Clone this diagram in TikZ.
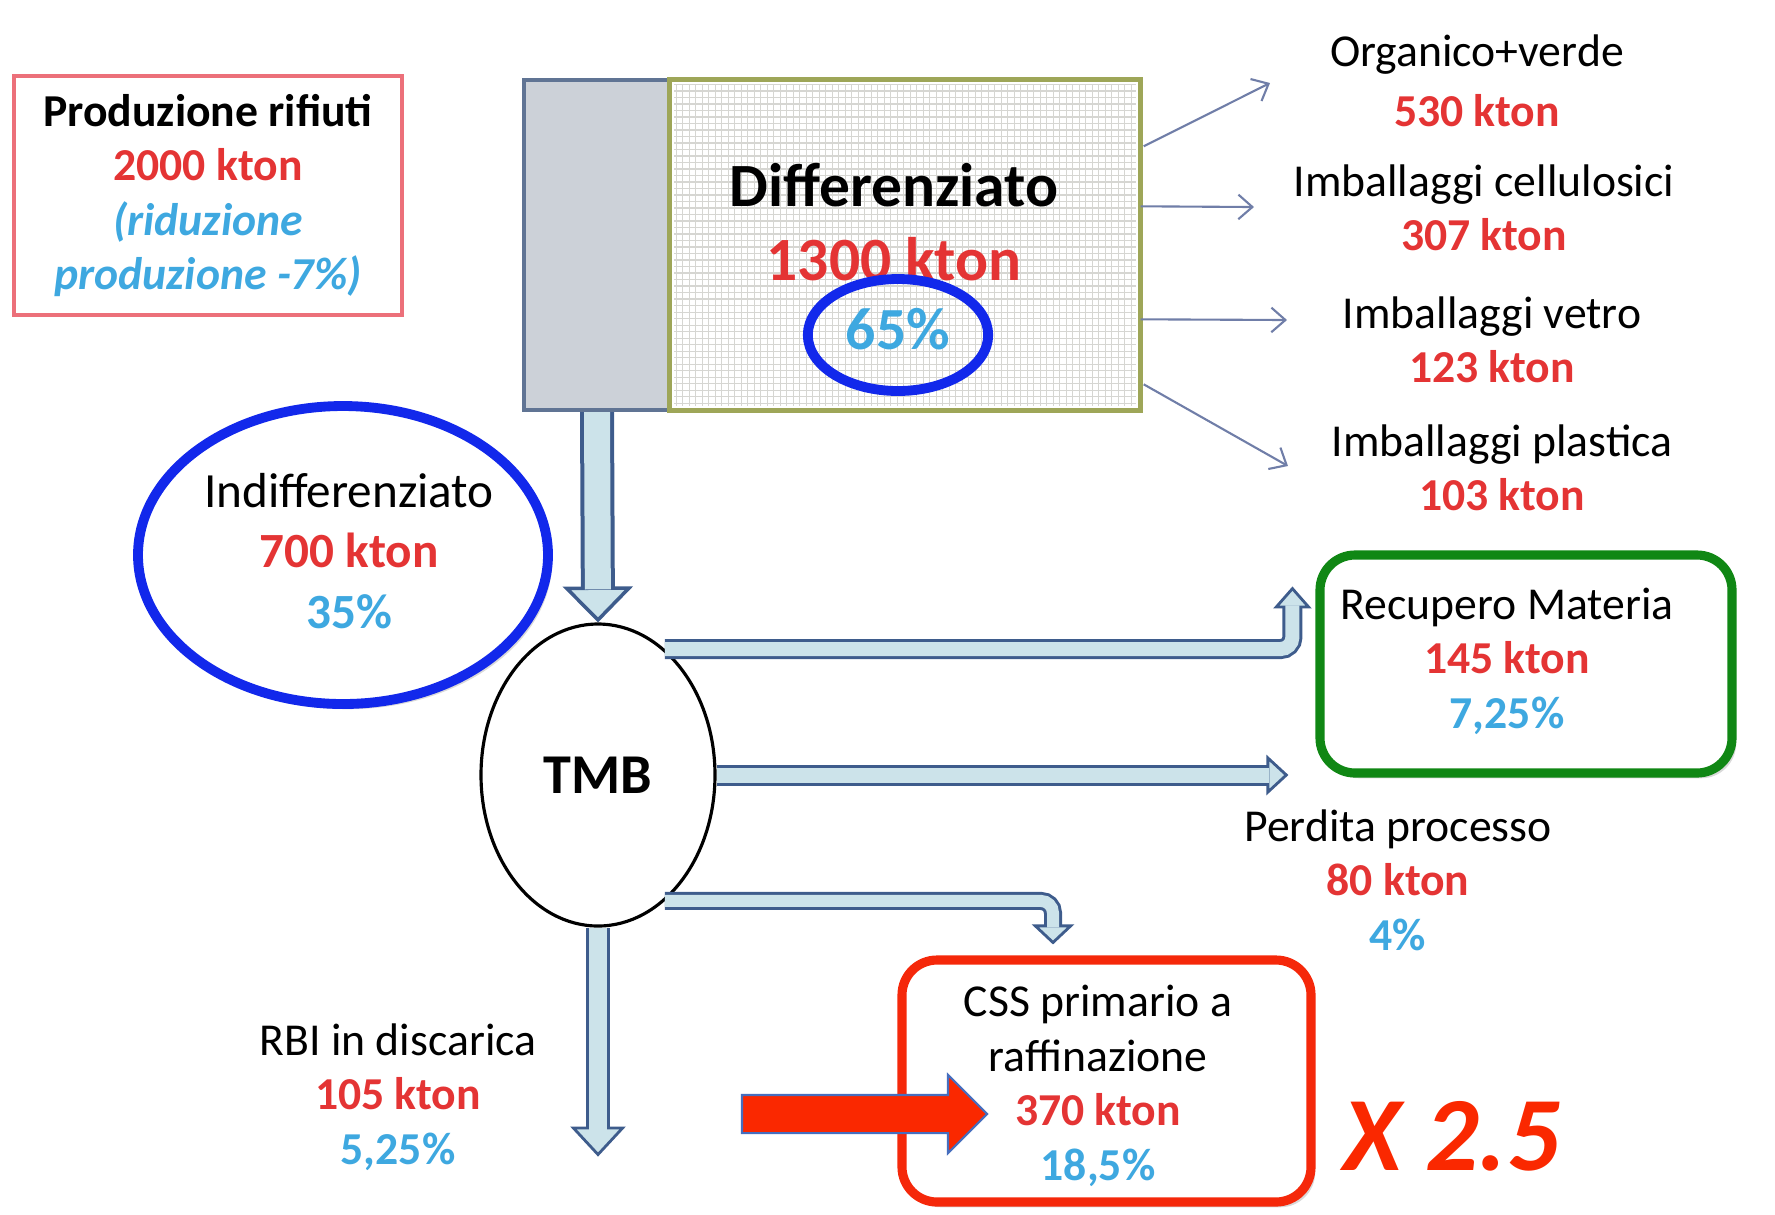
\documentclass[tikz,border=0pt]{standalone}
\usepackage{fontspec}
\setmainfont{Carlito}
\usetikzlibrary{arrows.meta,shapes.geometric,shapes.arrows,shadows,calc}
\definecolor{kred}{RGB}{228,52,52}
\definecolor{kblue}{RGB}{62,168,224}
\definecolor{ringblue}{RGB}{18,40,235}
\definecolor{boxgreen}{RGB}{16,135,20}
\definecolor{boxred}{RGB}{245,40,10}
\definecolor{prodpink}{RGB}{236,112,122}
\definecolor{barfill}{RGB}{204,209,216}
\definecolor{baredge}{RGB}{96,116,148}
\definecolor{diffolive}{RGB}{158,166,88}
\definecolor{gridgrey}{RGB}{214,214,210}
\definecolor{fatfill}{RGB}{204,227,234}
\definecolor{fatedge}{RGB}{62,92,140}
\definecolor{thinblue}{RGB}{112,126,168}
\definecolor{bigred}{RGB}{250,40,0}
\newcommand{\kt}[1]{{\color{kred}\bfseries #1}}
\newcommand{\pc}[1]{{\color{kblue}\bfseries #1}}

\begin{document}
\begin{tikzpicture}[x=1cm,y=-1cm,
    lbl/.style={align=center,font=\fontsize{13}{15.5}\selectfont},
    shaft/.style={draw=fatedge,line width=#1,rounded corners=0.12cm},
    core/.style={draw=fatfill,line width=#1,rounded corners=0.12cm},
    thinarr/.style={draw=thinblue,line width=0.6pt,-{Straight Barb[length=4pt,width=7pt]}},
    boxshadow/.style={drop shadow={opacity=0.3,shadow xshift=1.2pt,shadow yshift=-1.5pt}}]
        \useasboundingbox(0,0)rectangle(17.75,12.14);
        \node[draw=prodpink,line width=1pt,minimum width=3.88cm,minimum height=2.39cm,lbl](prod)at(2.08,1.955){\textbf{Produzione rifiuti}\\\kt{2000 kton}\\{\color{kblue}\bfseries\itshape(riduzione}\\{\color{kblue}\bfseries\itshape produzione -7\%)}};
        \node[draw=baredge,fill=barfill,line width=1.2pt,minimum width=1.46cm,minimum height=3.30cm](bar)at(5.97,2.45){};
        \node[fill=white,minimum width=4.70cm,minimum height=3.30cm](diffbox)at(9.05,2.45){};
        \draw[gridgrey,line width=0.3pt,step=0.065cm]($(diffbox.south west)+(0.05,-0.05)$)grid($(diffbox.north east)+(-0.05,0.05)$);
        \draw[diffolive,line width=1.5pt](diffbox.south west)rectangle(diffbox.north east);
        \node[align=center,font=\fontsize{17.5}{21}\selectfont\bfseries](difftxt)at(8.94,2.22){Differenziato\\{\color{kred}1300 kton}};
        \node[ellipse,draw=ringblue,line width=2.8pt,minimum width=1.72cm,minimum height=1.12cm,text=kblue,font=\fontsize{17}{20}\selectfont\bfseries,text depth=0.12cm](p65)at(8.98,3.35){65\%};
        \node[lbl](org)at(14.77,0.81){Organico+verde\\[1.5pt]\kt{530 kton}};
        \node[lbl](cel)at(14.84,2.08){Imballaggi cellulosici\\\kt{307 kton}};
        \node[lbl](vet)at(14.92,3.40){Imballaggi vetro\\\kt{123 kton}};
        \node[lbl](pla)at(15.02,4.68){Imballaggi plastica\\\kt{103 kton}};
        \coordinate(to1)at(12.70,0.83);
        \coordinate(to2)at(12.54,2.07);
        \coordinate(to3)at(12.87,3.20);
        \coordinate(to4)at(12.88,4.66);
        \draw[thinarr]($(diffbox.north east)+(0.03,0.67)$)--(to1);
        \draw[thinarr]($(diffbox.north east)+(0,1.27)$)--(to2);
        \draw[thinarr]($(diffbox.north east)+(0,2.40)$)--(to3);
        \draw[thinarr]($(diffbox.north east)+(0.03,3.05)$)--(to4);
        \node[ellipse,draw=ringblue,line width=2.8pt,fill=white,boxshadow,minimum width=4.10cm,minimum height=2.98cm](indiff)at(3.43,5.55){};
        \node[align=center,font=\fontsize{14}{17.3}\selectfont](indifftxt)at(3.49,5.51){Indifferenziato\\\kt{700 kton}\\\pc{35\%}};
        \node[ellipse,draw,line width=0.9pt,fill=white,minimum width=2.34cm,minimum height=3.02cm,font=\fontsize{16}{19}\selectfont\bfseries](tmb)at(5.98,7.75){TMB};
        \node[draw=boxgreen,line width=2.6pt,rounded corners=0.35cm,fill=white,boxshadow,minimum width=4.12cm,minimum height=2.18cm](rec)at(15.26,6.64){};
        \node[lbl](rectxt)at(15.07,6.61){Recupero Materia\\\kt{145 kton}\\\pc{7,25\%}};
        \node[lbl](perd)at(13.98,8.80){Perdita processo\\\kt{80 kton}\\\pc{4\%}};
        \node[draw=boxred,line width=2.6pt,rounded corners=0.35cm,fill=white,boxshadow,minimum width=4.09cm,minimum height=2.42cm](css)at(11.065,10.81){};
        \node[lbl](csstxt)at(10.98,10.86){CSS primario a\\raffinazione\\\kt{370 kton}\\\pc{18,5\%}};
        \node[lbl](rbi)at(3.98,10.97){RBI in discarica\\\kt{105 kton}\\\pc{5,25\%}};
        \node[single arrow,fill=bigred,draw={rgb,255:red,70;green,110;blue,190},line width=0.6pt,minimum height=2.45cm,inner xsep=0pt,inner ysep=0.18cm,single arrow head extend=0.2cm](redarr)at(8.55,11.14){};
        \node[text=bigred,font=\fontsize{30}{34}\selectfont\bfseries\itshape](times)at(14.52,11.36){X 2.5};
        \coordinate(rectip)at($(rec.north west)+(-0.23,0.36)$);
        \coordinate(perdtip)at($(rec.west|-tmb.east)+(-0.27,0)$);
        \coordinate(csstip)at($(css.north)+(-0.535,-0.11)$);
        \coordinate(rbitip)at($(tmb.south)+(0,2.29)$);
        \draw[shaft=0.34cm,-{Triangle[length=0.36cm,width=0.70cm,fill=fatfill,line width=1pt]}](bar.south)--(tmb.north);
        \draw[core=0.26cm,shorten >=0.33cm](bar.south)--(tmb.north);
        \draw[shaft=0.20cm,-{Triangle[length=0.22cm,width=0.38cm,fill=fatfill,line width=0.8pt]}](tmb.62)-|(rectip);
        \draw[core=0.14cm,shorten >=0.19cm](tmb.62)-|(rectip);
        \draw[shaft=0.21cm,-{Triangle[length=0.22cm,width=0.40cm,fill=fatfill,line width=0.8pt]}](tmb.east)--(perdtip);
        \draw[core=0.15cm,shorten >=0.19cm](tmb.east)--(perdtip);
        \draw[shaft=0.18cm,-{Triangle[length=0.20cm,width=0.42cm,fill=fatfill,line width=0.8pt]}](tmb.-62)-|(csstip);
        \draw[core=0.12cm,shorten >=0.17cm](tmb.-62)-|(csstip);
        \draw[shaft=0.24cm,-{Triangle[length=0.30cm,width=0.55cm,fill=fatfill,line width=0.8pt]}](tmb.south)--(rbitip);
        \draw[core=0.18cm,shorten >=0.27cm](tmb.south)--(rbitip);
\end{tikzpicture}
\end{document}
